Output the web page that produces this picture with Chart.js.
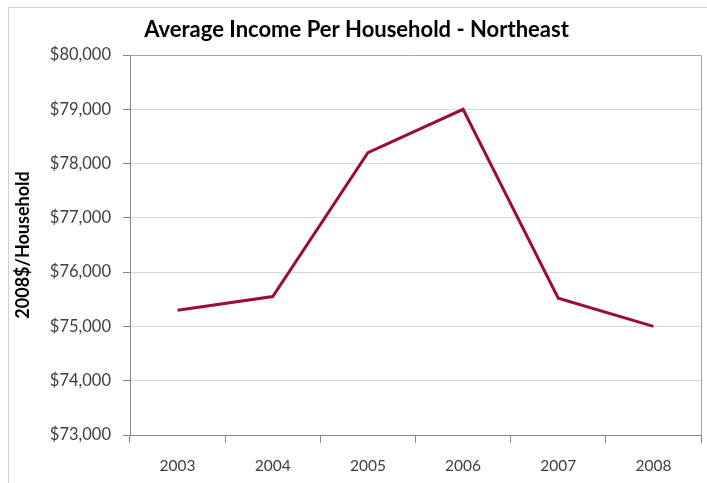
<!DOCTYPE html>
<html>
<head>
<meta charset="utf-8">
<script src="https://cdn.jsdelivr.net/npm/chart.js@4"></script>
<style>
  html, body { margin: 0; padding: 0; background: #fff; }
  #wrap { width: 707px; height: 483px; }
</style>
</head>
<body>
<div id="wrap"><canvas id="incomeChart" width="707" height="483"></canvas></div>
<script>
var years = ['2003', '2004', '2005', '2006', '2007', '2008'];
var incomes = [75300, 75550, 78200, 79000, 75520, 75000];
var yTicks = [73000, 74000, 75000, 76000, 77000, 78000, 79000, 80000];

// frame around the whole chart plus the plot area box
var frames = {
    id: 'frames',
    beforeDraw: function(chart) {
        var c = chart.ctx;
        c.save();
        c.fillStyle = '#fff';
        c.fillRect(0, 0, chart.width, chart.height);
        c.strokeStyle = '#d0d0d0';
        c.lineWidth = 1;
        c.strokeRect(8.5, 7.5, chart.width + 20, chart.height + 20);
        c.restore();
    },
    afterDraw: function(chart) {
        var a = chart.chartArea;
        var c = chart.ctx;
        c.save();
        c.strokeStyle = '#a6a6a6';
        c.lineWidth = 1;
        c.beginPath();
        c.moveTo(a.left, a.top + 0.5);
        c.lineTo(a.right + 0.5, a.top + 0.5);
        c.lineTo(a.right + 0.5, a.bottom);
        c.stroke();
        c.restore();
    }
};

var ctx = document.getElementById('incomeChart').getContext('2d');
var incomeChart = new Chart(ctx, {
    type: 'line',
    data: {
        labels: years,
        datasets: [{
            data: incomes,
            borderColor: '#990d38',
            borderWidth: 3,
            tension: 0,
            pointRadius: 0,
            fill: false
        }]
    },
    options: {
        responsive: false,
        animation: false,
        layout: { padding: { left: 12, right: 6, top: 0, bottom: 0 } },
        plugins: {
            legend: { display: false },
            tooltip: { enabled: false },
            title: {
                display: true,
                text: 'Average Income Per Household - Northeast',
                color: '#000',
                font: { family: 'Lato', size: 22, weight: 'bold' },
                padding: { top: 17, bottom: 11.6 }
            }
        },
        scales: {
            x: {
                offset: true,
                grid: {
                    offset: true,
                    drawOnChartArea: false,
                    drawTicks: true,
                    tickLength: 8,
                    color: '#868686'
                },
                border: { color: '#868686' },
                ticks: {
                    color: '#404040',
                    font: { family: 'Lato', size: 15.5 },
                    padding: 14,
                    maxRotation: 0
                },
                afterFit: function(scale) { scale.height = 48; }
            },
            y: {
                min: 73000,
                max: 80000,
                afterBuildTicks: function(scale) {
                    scale.ticks = yTicks.map(function(v) { return { value: v }; });
                },
                grid: {
                    color: '#d9d9d9',
                    tickColor: '#868686',
                    tickLength: 7
                },
                border: { color: '#868686' },
                ticks: {
                    color: '#404040',
                    font: { family: 'Lato', size: 16.5 },
                    padding: 12,
                    callback: function(v) { return '$' + v.toLocaleString('en-US'); }
                },
                title: {
                    display: true,
                    text: '2008$/Household',
                    color: '#000',
                    font: { family: 'Lato', size: 18, weight: 'bold' },
                    padding: { top: 0, bottom: 0 }
                },
                afterFit: function(scale) { scale.width = 118; }
            }
        }
    },
    plugins: [frames]
});
</script>
</body>
</html>
